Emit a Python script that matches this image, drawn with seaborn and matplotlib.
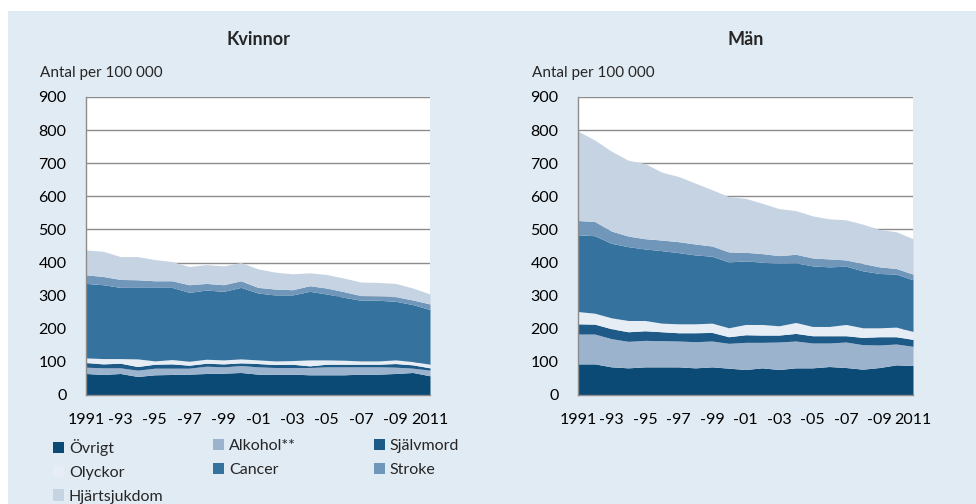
import numpy as np
import matplotlib.pyplot as plt
import seaborn as sns
from matplotlib.patches import Patch, Rectangle

# ---------------- Data (per 100 000, stacked layers) ----------------
years = list(range(1991, 2012))
causes = ["Övrigt", "Alkohol**", "Självmord", "Olyckor", "Cancer", "Stroke", "Hjärtsjukdom"]

kv_ovrigt = [65, 62, 65, 56, 61, 62, 63, 65, 66, 68, 63, 62, 63, 61, 61, 61, 63, 63, 65, 68, 58]
kv_alkohol = [19, 20, 17, 19, 20, 19, 18, 22, 19, 21, 22, 21, 20, 22, 24, 24, 22, 22, 19, 13, 17]
kv_sjalvmord = [14, 12, 14, 11, 12, 13, 9, 9, 9, 8, 10, 9, 10, 5, 8, 8, 8, 8, 11, 10, 7]
kv_olyckor = [14, 16, 14, 23, 10, 13, 12, 12, 12, 12, 11, 11, 11, 18, 13, 12, 10, 10, 11, 10, 11]
kv_cancer = [225, 223, 215, 216, 222, 218, 208, 209, 207, 216, 202, 199, 198, 207, 199, 190, 183, 183, 177, 172, 165]
kv_stroke = [26, 25, 24, 23, 20, 20, 23, 20, 20, 20, 17, 18, 16, 17, 18, 17, 14, 13, 14, 14, 17]
kv_hjarta = [75, 76, 69, 70, 64, 58, 55, 57, 57, 55, 56, 51, 48, 39, 41, 41, 41, 41, 40, 36, 30]

man_ovrigt = [94, 94, 85, 82, 85, 85, 85, 82, 85, 81, 77, 82, 77, 82, 82, 86, 83, 78, 83, 91, 89]
man_alkohol = [90, 90, 85, 80, 80, 79, 78, 79, 78, 75, 82, 77, 83, 81, 75, 71, 77, 74, 68, 63, 58]
man_sjalvmord = [31, 30, 30, 29, 29, 27, 25, 27, 26, 20, 23, 22, 21, 23, 22, 22, 19, 22, 25, 22, 21]
man_olyckor = [37, 33, 33, 34, 31, 26, 27, 27, 28, 27, 31, 32, 28, 33, 28, 28, 34, 29, 27, 29, 24]
man_cancer = [232, 234, 225, 223, 216, 219, 215, 208, 202, 199, 192, 188, 188, 180, 183, 180, 176, 172, 164, 160, 156]
man_stroke = [43, 43, 37, 32, 31, 32, 33, 33, 31, 30, 26, 26, 24, 26, 24, 24, 19, 22, 20, 17, 17]
man_hjarta = [270, 246, 241, 229, 227, 205, 197, 184, 170, 167, 163, 152, 142, 132, 127, 121, 121, 119, 113, 111, 107]

kvinnor = [kv_ovrigt, kv_alkohol, kv_sjalvmord, kv_olyckor, kv_cancer, kv_stroke, kv_hjarta]
man = [man_ovrigt, man_alkohol, man_sjalvmord, man_olyckor, man_cancer, man_stroke, man_hjarta]

xtick_years = list(range(1991, 2012, 2))
xtick_labels = ["1991", "-93", "-95", "-97", "-99", "-01", "-03", "-05", "-07", "-09", "2011"]

colors = ["#0B4A75", "#9CB3CE", "#1E5A87", "#E6EDF4", "#35729E", "#7096BA", "#C5D3E3"]
bg = "#E1EBF3"
grey = "#8C8C8C"

# ---------------- Style ----------------
sns.set_theme(style="white")
plt.rcParams['font.family'] = ['Lato', 'DejaVu Sans']
plt.rcParams['font.size'] = 11

fig = plt.figure(figsize=(9.76, 5.04), dpi=100)
fig.patch.set_facecolor("white")
fig.patches.append(Rectangle((8 / 976, 0), 1, (504 - 11) / 504, transform=fig.transFigure,
                             facecolor=bg, edgecolor="none", zorder=-10))

panels = [
    ("Kvinnor", kvinnor, [86 / 976, 109 / 504, 344 / 976, 298 / 504]),
    ("Män", man, [578 / 976, 109 / 504, 335 / 976, 298 / 504]),
]

for title, data, rect in panels:
    ax = fig.add_axes(rect)
    ax.set_facecolor("white")
    ax.stackplot(years, *data, colors=colors, linewidth=0, zorder=3)
    ax.set_xlim(1991, 2011)
    ax.set_ylim(0, 900)
    ax.set_yticks(range(0, 901, 100))
    ax.set_xticks(xtick_years)
    ax.set_xticklabels(xtick_labels)
    ax.set_xticks(years, minor=True)
    ax.yaxis.grid(True, color=grey, linewidth=1, zorder=0)
    ax.set_axisbelow(True)
    sns.despine(ax=ax, top=True, right=True)
    for s in ["left", "bottom"]:
        ax.spines[s].set_color(grey)
        ax.spines[s].set_linewidth(1)
        ax.spines[s].set_zorder(5)
    ax.tick_params(axis="both", which="both", direction="out", length=5, width=1,
                   color=grey, labelsize=11.5, labelcolor="black")
    ax.tick_params(axis="y", pad=9)
    ax.tick_params(axis="x", pad=8)
    cx = rect[0] + rect[2] / 2
    fig.text(cx, 1 - 40 / 504, title, ha="center", va="center", fontsize=13, fontweight="bold")
    fig.text(rect[0] - 46 / 976, 1 - 73 / 504, "Antal per 100 000", ha="left", va="center", fontsize=11)

# ---------------- Legend (row-wise, three columns) ----------------
handles = [Patch(facecolor=c, edgecolor="none") for c in colors]
columns = [[0, 3, 6], [1, 4], [2, 5]]
col_x = [53, 213, 374]
for idx, x in zip(columns, col_x):
    fig.legend([handles[i] for i in idx], [causes[i] for i in idx],
               loc="upper left", bbox_to_anchor=(x / 976, 1 - 439 / 504),
               frameon=False, fontsize=11.5, handlelength=0.7, handleheight=0.7,
               handletextpad=0.3, labelspacing=0.6, borderpad=0, borderaxespad=0)

plt.savefig("out.png", dpi=100, facecolor=fig.get_facecolor())
